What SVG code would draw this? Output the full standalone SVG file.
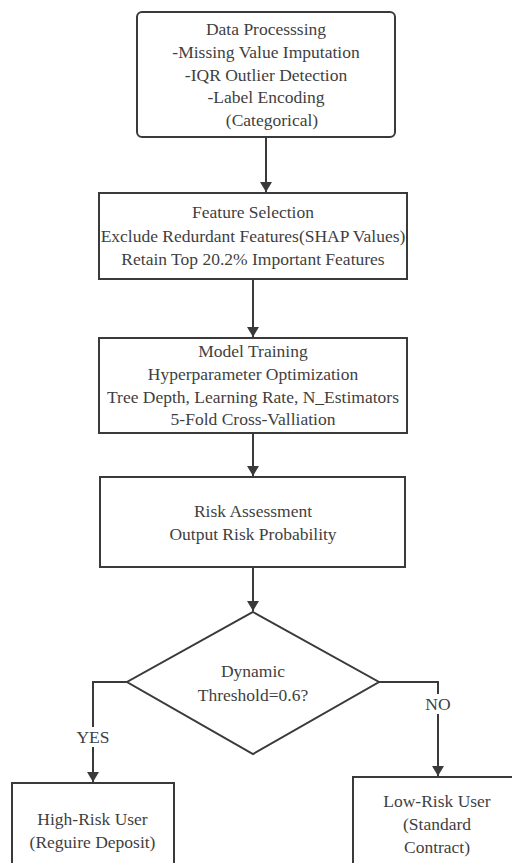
<svg xmlns="http://www.w3.org/2000/svg" width="512" height="863" viewBox="0 0 512 863">
<style>
.box{fill:#fff;stroke:#3a3a3a;stroke-width:2}
.t{font-family:"Liberation Serif","Times New Roman",serif;font-size:17.5px;fill:#3f3f3f;text-anchor:middle}
.c{fill:none;stroke:#3a3a3a;stroke-width:2}
</style>
<defs>
<marker id="ah" viewBox="0 0 10 12" refX="10" refY="6" markerWidth="10" markerHeight="12" markerUnits="userSpaceOnUse" orient="auto">
<path d="M0,0 L10,6 L0,12 Z" fill="#3a3a3a"/>
</marker>
</defs>
<rect width="512" height="863" fill="#fff"/>
<g id="connectors">
<line class="c" x1="266" y1="137" x2="266" y2="192" marker-end="url(#ah)"/>
<line class="c" x1="253" y1="279" x2="253" y2="337" marker-end="url(#ah)"/>
<line class="c" x1="253" y1="433" x2="253" y2="476" marker-end="url(#ah)"/>
<line class="c" x1="253" y1="567" x2="253" y2="611" marker-end="url(#ah)"/>
<polyline class="c" points="127,682 93,682 93,782" marker-end="url(#ah)"/>
<polyline class="c" points="379,682 438,682 438,776" marker-end="url(#ah)"/>
<rect x="76" y="727" width="35" height="20" fill="#fff"/>
<text class="t" x="93" y="743">YES</text>
<rect x="424" y="694" width="29" height="20" fill="#fff"/>
<text class="t" x="438" y="710">NO</text>
</g>
<g id="data-processing">
<rect class="box" x="137" y="12" width="258" height="125" rx="5"/>
<text class="t" x="266" y="35">Data Processsing</text>
<text class="t" x="266" y="57.5">-Missing Value Imputation</text>
<text class="t" x="266" y="80.5">-IQR Outlier Detection</text>
<text class="t" x="266" y="103">-Label Encoding</text>
<text class="t" x="272" y="126">(Categorical)</text>
</g>
<g id="feature-selection">
<rect class="box" x="99" y="193" width="308" height="86"/>
<text class="t" x="253" y="218">Feature Selection</text>
<text class="t" x="253" y="242">Exclude Redurdant Features(SHAP Values)</text>
<text class="t" x="253" y="265">Retain Top 20.2% Important Features</text>
</g>
<g id="model-training">
<rect class="box" x="99" y="338" width="308" height="95"/>
<text class="t" x="253" y="357">Model Training</text>
<text class="t" x="253" y="380">Hyperparameter Optimization</text>
<text class="t" x="253" y="402.5">Tree Depth, Learning Rate, N_Estimators</text>
<text class="t" x="253" y="425">5-Fold Cross-Valliation</text>
</g>
<g id="risk-assessment">
<rect class="box" x="100" y="477" width="305" height="90"/>
<text class="t" x="253" y="517">Risk Assessment</text>
<text class="t" x="253" y="540">Output Risk Probability</text>
</g>
<g id="threshold">
<polygon class="box" points="253,612 379,682 253,754 127,682"/>
<text class="t" x="253" y="677">Dynamic</text>
<text class="t" x="253" y="700.5">Threshold=0.6?</text>
</g>
<g id="high-risk">
<rect class="box" x="12" y="783" width="162" height="90"/>
<text class="t" x="92.5" y="825">High-Risk User</text>
<text class="t" x="92.5" y="848">(Reguire Deposit)</text>
</g>
<g id="low-risk">
<rect class="box" x="353" y="777" width="170" height="100"/>
<text class="t" x="437" y="807">Low-Risk User</text>
<text class="t" x="437" y="830">(Standard</text>
<text class="t" x="437" y="853">Contract)</text>
</g>
</svg>
